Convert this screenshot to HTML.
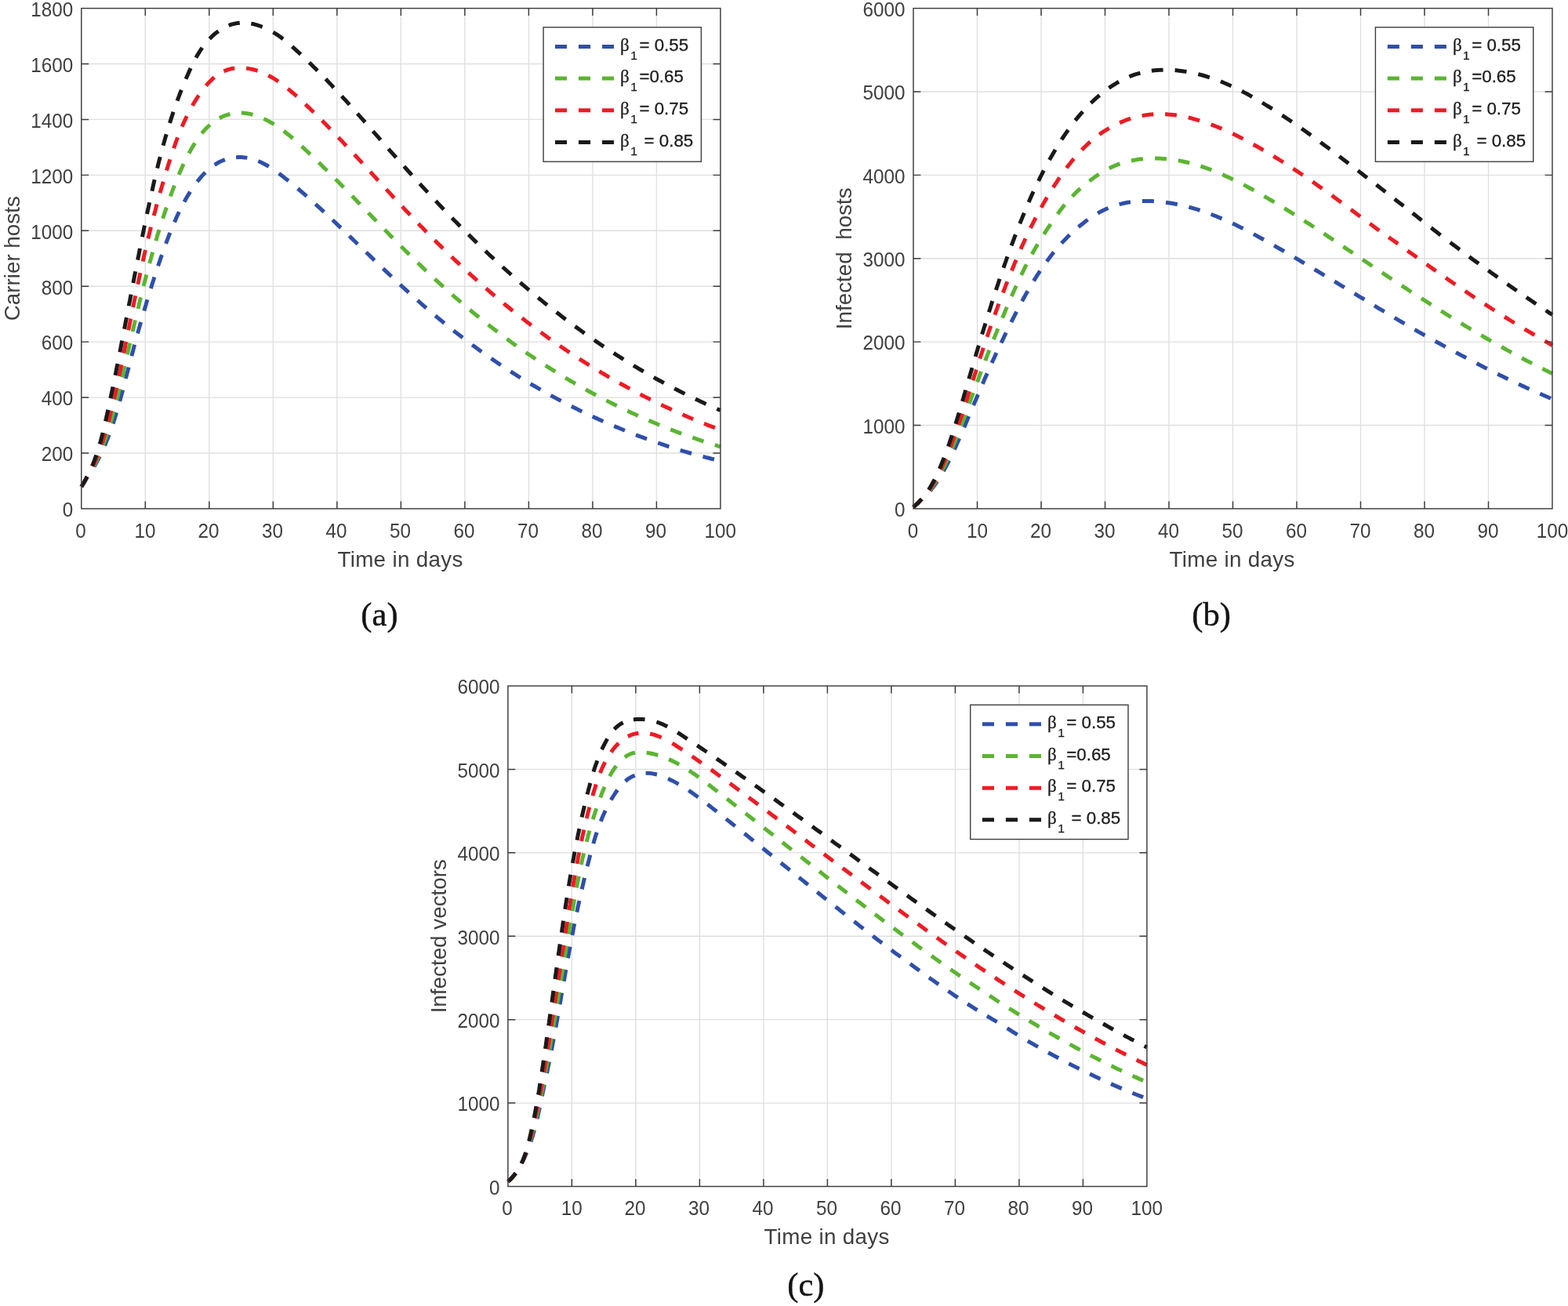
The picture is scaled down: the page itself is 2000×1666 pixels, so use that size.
<!DOCTYPE html>
<html lang="en">
<head>
<meta charset="utf-8">
<title>Effect of β1 on carrier hosts, infected hosts and infected vectors</title>
<style>
html,body{margin:0;padding:0;background:#fff;}
body{width:2000px;height:1666px;overflow:hidden;}
svg{display:block;}
text{font-family:"Liberation Sans",sans-serif;fill:#404040;}
.tick text{font-size:25.3px;}
.lab{font-size:27.8px;}
.leg{font-size:22.3px;fill:#1c1c1c;stroke:#1c1c1c;stroke-width:0.3px;}
.leg .sub{font-size:15.5px;}
.leg .beta{font-family:"Liberation Serif",serif;font-size:23px;}
.cap{font-family:"Liberation Serif",serif;font-size:42.6px;fill:#141414;stroke:#141414;stroke-width:0.45px;}
.grid{fill:none;stroke:#dfdfdf;stroke-width:1.35;}
.axis{fill:none;stroke:#3c3c3c;stroke-width:1.45;}
.legbox{fill:#fff;stroke:#3c3c3c;stroke-width:1.4;}
.curves path{fill:none;stroke-width:5;stroke-linecap:butt;stroke-linejoin:round;}
.legend path{fill:none;}
</style>
</head>
<body>
<svg width="2000" height="1666" viewBox="0 0 2000 1666">
<defs>
<clipPath id="clip-a"><rect x="99.8" y="6.6" width="823.15" height="646.3"/></clipPath>
<clipPath id="clip-b"><rect x="1161" y="6.6" width="823" height="646.3"/></clipPath>
<clipPath id="clip-c"><rect x="643.9" y="871" width="823" height="646.5"/></clipPath>
</defs>
<rect width="2000" height="1666" fill="#fff"/>
<g class="chart" id="chart-a">
<path class="grid" d="M185.31,10.6V648.9M266.83,10.6V648.9M348.35,10.6V648.9M429.86,10.6V648.9M511.38,10.6V648.9M592.89,10.6V648.9M674.41,10.6V648.9M755.92,10.6V648.9M837.43,10.6V648.9M103.8,577.98H918.95M103.8,507.06H918.95M103.8,436.13H918.95M103.8,365.21H918.95M103.8,294.29H918.95M103.8,223.37H918.95M103.8,152.44H918.95M103.8,81.52H918.95"/>
<g clip-path="url(#clip-a)" class="curves">
<path stroke="#2f4faa" d="M103.8,620.9L105.8,617.7 107.7,614.5 109.5,611.2 111.2,608.0M120.2,595.4L122.0,592.1 123.8,588.8 125.5,585.5 127.2,582.1M133.5,568.5L135.0,565.0 136.4,561.6 137.8,558.1 139.1,554.6M144.1,540.5L145.3,537.0 146.4,533.4 147.5,529.9 148.6,526.3M152.7,511.9L153.7,508.3 154.7,504.7 155.7,501.1 156.6,497.5M160.4,483.0L161.3,479.4 162.2,475.8 163.2,472.2 164.1,468.5M167.9,454.1L168.8,450.5 169.8,446.9 170.7,443.3 171.7,439.7M175.6,425.3L176.6,421.7 177.6,418.1 178.6,414.5 179.6,410.9M183.8,396.5L184.8,393.0 185.9,389.4 186.9,385.8 188.0,382.2M192.4,367.9L193.5,364.3 194.6,360.7 195.8,357.2 196.9,353.6M201.6,339.3L202.8,335.8 204.0,332.2 205.2,328.6 206.5,325.1M211.6,310.9L212.9,307.4 214.2,303.9 215.5,300.4 216.9,296.9M222.5,283.4L224.0,280.1 225.4,276.8 226.9,273.5 228.4,270.3M235.0,257.5L236.8,254.3 238.6,251.1 240.6,247.9 242.6,244.6M251.6,231.7L254.1,228.6 256.6,225.6 259.2,222.7 261.9,219.9M273.7,210.3L276.9,208.3 280.1,206.5 283.5,205.0 286.9,203.7M301.1,200.7L304.7,200.6 308.3,200.6 311.9,200.9 315.4,201.4M329.4,205.5L332.9,207.0 336.2,208.7 339.6,210.5 342.9,212.4M355.7,221.3L358.8,223.6 361.9,226.0 364.9,228.4 368.0,230.8M379.8,240.5L382.7,243.0 385.5,245.4 388.4,247.9 391.2,250.4M402.4,260.3L405.1,262.8 407.9,265.3 410.6,267.8 413.3,270.4M424.1,280.5L426.8,283.0 429.5,285.6 432.1,288.2 434.8,290.7M445.5,301.0L448.2,303.6 450.9,306.2 453.6,308.8 456.2,311.4M467.0,321.7L469.7,324.3 472.4,326.9 475.0,329.5 477.7,332.1M488.6,342.5L491.3,345.1 494.0,347.6 496.7,350.2 499.4,352.8M510.4,363.0L513.1,365.6 515.9,368.1 518.6,370.6 521.4,373.1M532.6,383.2L535.4,385.6 538.2,388.1 541.0,390.6 543.8,393.0M555.2,402.7L558.1,405.1 561.0,407.5 563.9,409.9 566.8,412.3M578.4,421.7L581.4,424.0 584.3,426.3 587.3,428.6 590.2,430.8M602.2,439.9L605.2,442.1 608.2,444.3 611.2,446.5 614.3,448.7M626.5,457.3L629.5,459.4 632.6,461.5 635.7,463.6 638.8,465.7M651.3,473.9L654.4,475.9 657.6,477.9 660.7,479.8 663.9,481.8M676.6,489.6L679.8,491.5 683.1,493.3 686.3,495.2 689.5,497.1M702.5,504.4L705.8,506.2 709.1,507.9 712.4,509.7 715.7,511.4M728.9,518.3L732.3,520.0 735.6,521.6 738.9,523.3 742.3,524.9M755.8,531.3L759.2,532.9 762.6,534.4 766.0,536.0 769.4,537.5M783.2,543.5L786.6,544.9 790.1,546.3 793.6,547.8 797.0,549.2M811.0,554.7L814.5,556.1 818.0,557.4 821.5,558.7 825.0,560.0M839.2,565.0L842.8,566.2 846.3,567.4 849.9,568.6 853.4,569.8M867.7,574.3L871.3,575.4 874.9,576.4 878.5,577.5 882.1,578.5M896.6,582.4L900.2,583.4 903.8,584.3 907.4,585.2 911.0,586.0"/>
<path stroke="#5ab531" d="M103.8,620.9L105.8,617.7 107.7,614.5 109.5,611.2 111.2,608.0M119.4,595.2L121.1,591.8 122.7,588.5 124.3,585.0 125.8,581.6M131.5,567.7L132.8,564.2 134.1,560.7 135.3,557.1 136.5,553.6M141.0,539.3L142.1,535.7 143.1,532.1 144.1,528.5 145.1,524.9M148.9,510.5L149.8,506.8 150.7,503.2 151.6,499.6 152.4,495.9M155.8,481.3L156.7,477.7 157.5,474.1 158.3,470.4 159.2,466.8M162.5,452.2L163.3,448.5 164.1,444.9 165.0,441.2 165.8,437.6M169.1,423.0L170.0,419.4 170.8,415.7 171.7,412.1 172.5,408.4M176.0,393.9L176.9,390.3 177.7,386.6 178.6,383.0 179.5,379.4M183.1,364.9L184.0,361.3 185.0,357.6 185.9,354.0 186.8,350.4M190.7,336.0L191.7,332.4 192.7,328.8 193.7,325.2 194.7,321.6M198.8,307.2L199.9,303.7 200.9,300.1 202.0,296.5 203.1,292.9M207.6,278.7L208.8,275.2 210.0,271.6 211.2,268.1 212.4,264.6M217.3,250.5L218.6,247.0 219.9,243.5 221.2,240.0 222.5,236.6M228.1,222.7L229.6,219.3 231.1,215.9 232.6,212.5 234.2,209.1M241.0,195.7L242.8,192.3 244.7,189.0 246.6,185.8 248.6,182.5M257.4,170.1L259.9,167.2 262.4,164.4 265.1,161.8 267.8,159.2M279.9,150.7L283.2,149.0 286.5,147.6 290.0,146.4 293.5,145.5M307.9,144.1L311.5,144.3 315.2,144.7 318.8,145.4 322.4,146.3M336.4,151.5L339.8,153.1 343.1,154.9 346.4,156.7 349.6,158.7M361.9,167.1L364.9,169.4 367.8,171.7 370.7,174.1 373.6,176.5M384.8,186.6L387.6,189.1 390.3,191.7 393.0,194.3 395.8,196.9M406.6,207.3L409.3,209.9 411.9,212.6 414.6,215.2 417.3,217.8M427.9,228.5L430.5,231.1 433.2,233.8 435.8,236.5 438.4,239.1M448.9,249.9L451.5,252.5 454.1,255.2 456.7,257.9 459.3,260.6M469.7,271.4L472.3,274.1 474.9,276.8 477.5,279.4 480.1,282.1M490.6,292.9L493.2,295.5 495.8,298.2 498.4,300.9 501.0,303.6M511.6,314.2L514.2,316.8 516.8,319.5 519.5,322.1 522.1,324.8M532.8,335.2L535.5,337.8 538.2,340.4 540.9,343.0 543.6,345.6M554.5,355.8L557.3,358.3 560.0,360.9 562.8,363.4 565.6,365.9M576.7,375.9L579.5,378.3 582.4,380.8 585.2,383.2 588.0,385.7M599.4,395.3L602.3,397.7 605.2,400.1 608.1,402.5 611.0,404.8M622.7,414.1L625.6,416.5 628.6,418.7 631.5,421.0 634.5,423.3M646.5,432.3L649.5,434.5 652.5,436.7 655.5,438.9 658.6,441.0M670.8,449.6L673.9,451.7 677.0,453.8 680.1,455.9 683.2,458.0M695.7,466.2L698.8,468.2 702.0,470.2 705.2,472.2 708.3,474.2M721.1,481.9L724.3,483.9 727.5,485.7 730.8,487.6 734.0,489.5M747.0,496.9L750.3,498.7 753.6,500.5 756.9,502.2 760.2,504.0M773.4,510.9L776.7,512.6 780.1,514.3 783.4,516.0 786.8,517.6M800.3,524.1L803.6,525.7 807.0,527.3 810.4,528.8 813.8,530.4M827.5,536.4L831.0,537.9 834.4,539.3 837.9,540.8 841.3,542.2M855.2,547.8L858.7,549.1 862.2,550.5 865.7,551.8 869.2,553.1M883.3,558.2L886.9,559.4 890.4,560.7 893.9,561.9 897.5,563.1M911.8,567.7L913.6,568.2 915.4,568.8 917.2,569.3 919.0,569.9"/>
<path stroke="#ed1c24" d="M103.8,620.9L105.8,617.7 107.7,614.5 109.5,611.2 111.2,608.0M118.7,594.9L120.2,591.5 121.7,588.1 123.1,584.6 124.5,581.2M129.5,567.1L130.7,563.5 131.8,560.0 132.9,556.4 134.0,552.8M138.1,538.4L139.1,534.8 140.0,531.1 140.9,527.5 141.8,523.9M145.3,509.2L146.2,505.6 147.0,501.9 147.8,498.3 148.6,494.6M151.8,479.9L152.5,476.2 153.3,472.6 154.1,468.9 154.8,465.2M157.8,450.5L158.6,446.9 159.3,443.2 160.0,439.5 160.8,435.9M163.7,421.2L164.5,417.6 165.2,413.9 166.0,410.2 166.7,406.6M169.7,391.9L170.4,388.3 171.2,384.6 172.0,381.0 172.7,377.3M175.8,362.7L176.6,359.0 177.3,355.4 178.1,351.7 178.9,348.1M182.2,333.5L183.0,329.8 183.8,326.2 184.6,322.5 185.5,318.9M188.9,304.3L189.8,300.6 190.7,297.0 191.6,293.3 192.5,289.7M196.2,275.1L197.2,271.4 198.2,267.8 199.1,264.2 200.1,260.5M204.1,246.1L205.1,242.4 206.2,238.8 207.2,235.2 208.3,231.7M212.5,217.4L213.6,213.8 214.7,210.3 215.8,206.7 216.9,203.2M221.6,189.2L222.8,185.7 224.0,182.2 225.3,178.8 226.5,175.3M232.1,161.6L233.6,158.2 235.1,154.8 236.7,151.5 238.3,148.1M245.4,134.8L247.3,131.4 249.3,128.2 251.4,124.9 253.5,121.6M262.8,109.3L265.3,106.4 267.9,103.7 270.6,101.1 273.4,98.7M285.5,90.9L288.8,89.5 292.2,88.4 295.7,87.5 299.3,87.0M314.1,87.0L317.8,87.6 321.5,88.3 325.1,89.2 328.6,90.3M342.3,96.2L345.6,98.0 348.8,99.9 352.0,101.9 355.1,104.0M367.2,113.1L370.1,115.6 372.9,118.0 375.8,120.4 378.6,122.9M389.5,133.0L392.2,135.6 394.9,138.1 397.5,140.7 400.2,143.3M410.8,153.8L413.4,156.4 416.0,159.1 418.6,161.8 421.2,164.4M431.5,175.2L434.1,177.9 436.7,180.6 439.2,183.4 441.8,186.1M452.0,197.1L454.5,199.8 457.1,202.6 459.6,205.3 462.2,208.1M472.3,219.2L474.8,222.0 477.4,224.7 479.9,227.5 482.4,230.3M492.6,241.4L495.1,244.1 497.7,246.9 500.2,249.7 502.8,252.4M513.0,263.4L515.5,266.2 518.1,268.9 520.7,271.6 523.2,274.3M533.6,285.2L536.2,287.9 538.8,290.5 541.4,293.2 544.0,295.9M554.5,306.5L557.2,309.2 559.8,311.8 562.5,314.4 565.1,317.0M575.9,327.4L578.5,330.0 581.2,332.6 584.0,335.2 586.7,337.7M597.6,347.9L600.3,350.4 603.1,352.9 605.9,355.4 608.6,357.9M619.8,367.8L622.6,370.2 625.4,372.7 628.3,375.1 631.1,377.5M642.5,387.1L645.4,389.5 648.3,391.8 651.2,394.2 654.1,396.5M665.8,405.8L668.8,408.1 671.7,410.4 674.7,412.6 677.7,414.9M689.7,423.8L692.7,426.0 695.7,428.2 698.7,430.4 701.8,432.6M714.0,441.2L717.1,443.3 720.2,445.4 723.3,447.5 726.4,449.6M739.0,457.8L742.1,459.8 745.3,461.8 748.4,463.8 751.6,465.8M764.4,473.6L767.6,475.6 770.8,477.5 774.0,479.4 777.2,481.3M790.2,488.7L793.5,490.5 796.8,492.3 800.1,494.1 803.3,495.9M816.6,502.9L819.9,504.7 823.2,506.4 826.6,508.1 829.9,509.7M843.3,516.3L846.7,517.9 850.1,519.5 853.5,521.1 856.9,522.7M870.5,528.8L873.9,530.3 877.3,531.8 880.8,533.2 884.2,534.7M898.0,540.3L901.5,541.7 905.0,543.1 908.5,544.4 912.0,545.8"/>
<path stroke="#1a1a1a" d="M103.8,620.9L105.8,617.7 107.7,614.5 109.5,611.2 111.2,608.0M117.5,594.5L118.9,591.1 120.3,587.6 121.5,584.1 122.8,580.6M127.2,566.4L128.3,562.9 129.2,559.3 130.2,555.6 131.1,552.0M134.5,537.4L135.4,533.8 136.2,530.1 137.0,526.5 137.8,522.8M140.9,508.1L141.7,504.4 142.5,500.8 143.3,497.1 144.0,493.4M147.0,478.7L147.8,475.0 148.5,471.3 149.2,467.6 150.0,464.0M152.9,449.2L153.6,445.5 154.3,441.9 155.0,438.2 155.7,434.5M158.6,419.8L159.3,416.1 160.0,412.4 160.7,408.7 161.4,405.1M164.2,390.3L164.9,386.7 165.7,383.0 166.4,379.3 167.1,375.6M169.9,360.9L170.6,357.3 171.3,353.6 172.0,349.9 172.8,346.2M175.6,331.6L176.4,327.9 177.1,324.2 177.8,320.6 178.5,316.9M181.5,302.2L182.2,298.6 183.0,294.9 183.7,291.2 184.5,287.6M187.5,273.0L188.3,269.3 189.1,265.6 189.9,262.0 190.7,258.3M193.9,243.7L194.7,240.1 195.5,236.4 196.3,232.8 197.2,229.2M200.6,214.6L201.5,211.0 202.4,207.4 203.3,203.8 204.3,200.1M208.1,185.7L209.1,182.1 210.1,178.5 211.1,174.9 212.2,171.3M216.5,157.0L217.6,153.5 218.8,149.9 219.9,146.4 221.1,142.8M226.1,128.7L227.4,125.2 228.7,121.7 230.0,118.2 231.4,114.7M237.1,100.8L238.6,97.3 240.1,93.9 241.6,90.4 243.2,87.0M250.0,73.6L251.8,70.3 253.8,67.1 255.8,64.0 257.9,60.9M267.3,49.5L269.9,46.9 272.7,44.3 275.6,41.9 278.6,39.7M291.7,32.5L295.2,31.2 298.7,30.3 302.3,29.6 305.8,29.2M320.3,30.1L324.0,30.8 327.6,31.8 331.2,33.0 334.7,34.3M348.4,41.1L351.7,43.1 354.9,45.2 358.0,47.4 361.1,49.7M372.6,59.3L375.4,61.8 378.1,64.3 380.9,66.8 383.6,69.3M394.4,79.7L397.1,82.3 399.7,84.9 402.4,87.5 405.0,90.2M415.4,100.8L418.0,103.5 420.6,106.2 423.1,108.9 425.7,111.7M435.8,122.6L438.3,125.4 440.9,128.1 443.4,130.9 445.9,133.7M455.8,144.8L458.3,147.6 460.8,150.4 463.3,153.2 465.7,156.0M475.6,167.3L478.1,170.1 480.6,172.9 483.0,175.7 485.5,178.5M495.4,189.8L497.8,192.6 500.3,195.4 502.8,198.2 505.3,201.0M515.3,212.2L517.8,215.0 520.3,217.7 522.8,220.5 525.3,223.3M535.4,234.4L537.9,237.1 540.5,239.9 543.0,242.6 545.6,245.4M555.8,256.3L558.4,259.1 560.9,261.8 563.5,264.5 566.1,267.2M576.5,278.0L579.1,280.7 581.8,283.3 584.4,286.0 587.0,288.7M597.6,299.3L600.3,301.9 602.9,304.5 605.6,307.1 608.3,309.8M619.1,320.1L621.8,322.7 624.5,325.3 627.3,327.8 630.0,330.4M641.0,340.5L643.8,343.0 646.6,345.5 649.4,348.0 652.2,350.5M663.5,360.4L666.3,362.8 669.1,365.2 672.0,367.7 674.8,370.1M686.3,379.6L689.2,382.0 692.1,384.4 695.0,386.7 698.0,389.1M709.7,398.3L712.7,400.6 715.6,402.9 718.6,405.2 721.6,407.4M733.5,416.4L736.6,418.6 739.6,420.8 742.6,423.0 745.6,425.1M757.9,433.7L760.9,435.9 764.0,438.0 767.1,440.1 770.2,442.1M782.7,450.4L785.8,452.4 789.0,454.4 792.1,456.4 795.3,458.4M808.0,466.3L811.2,468.2 814.4,470.1 817.6,472.0 820.9,473.9M833.8,481.4L837.1,483.2 840.4,485.0 843.7,486.8 846.9,488.6M860.2,495.6L863.5,497.3 866.8,499.0 870.2,500.7 873.5,502.4M887.0,509.0L890.4,510.6 893.8,512.2 897.2,513.8 900.6,515.4M914.4,521.5L915.5,522.0 916.7,522.5 917.8,523.0 919.0,523.4"/>
</g>
<path class="axis" d="M185.31,648.9v-9.4M185.31,10.6v9.4M266.83,648.9v-9.4M266.83,10.6v9.4M348.35,648.9v-9.4M348.35,10.6v9.4M429.86,648.9v-9.4M429.86,10.6v9.4M511.38,648.9v-9.4M511.38,10.6v9.4M592.89,648.9v-9.4M592.89,10.6v9.4M674.41,648.9v-9.4M674.41,10.6v9.4M755.92,648.9v-9.4M755.92,10.6v9.4M837.43,648.9v-9.4M837.43,10.6v9.4M103.8,577.98h9.4M918.95,577.98h-9.4M103.8,507.06h9.4M918.95,507.06h-9.4M103.8,436.13h9.4M918.95,436.13h-9.4M103.8,365.21h9.4M918.95,365.21h-9.4M103.8,294.29h9.4M918.95,294.29h-9.4M103.8,223.37h9.4M918.95,223.37h-9.4M103.8,152.44h9.4M918.95,152.44h-9.4M103.8,81.52h9.4M918.95,81.52h-9.4"/>
<rect class="axis" x="103.8" y="10.6" width="815.15" height="638.3"/>
<g class="tick" text-anchor="middle">
<text x="102.9" y="685.75" textLength="13.5" lengthAdjust="spacingAndGlyphs">0</text>
<text x="185.01" y="685.75" textLength="27.01" lengthAdjust="spacingAndGlyphs">10</text>
<text x="265.93" y="685.75" textLength="27.01" lengthAdjust="spacingAndGlyphs">20</text>
<text x="347.45" y="685.75" textLength="27.01" lengthAdjust="spacingAndGlyphs">30</text>
<text x="428.96" y="685.75" textLength="27.01" lengthAdjust="spacingAndGlyphs">40</text>
<text x="510.48" y="685.75" textLength="27.01" lengthAdjust="spacingAndGlyphs">50</text>
<text x="591.99" y="685.75" textLength="27.01" lengthAdjust="spacingAndGlyphs">60</text>
<text x="673.51" y="685.75" textLength="27.01" lengthAdjust="spacingAndGlyphs">70</text>
<text x="755.02" y="685.75" textLength="27.01" lengthAdjust="spacingAndGlyphs">80</text>
<text x="836.53" y="685.75" textLength="27.01" lengthAdjust="spacingAndGlyphs">90</text>
<text x="918.65" y="685.75" textLength="40.51" lengthAdjust="spacingAndGlyphs">100</text>
</g>
<g class="tick" text-anchor="end">
<text x="93.3" y="659.2" textLength="13.5" lengthAdjust="spacingAndGlyphs">0</text>
<text x="93.3" y="588.28" textLength="40.51" lengthAdjust="spacingAndGlyphs">200</text>
<text x="93.3" y="517.36" textLength="40.51" lengthAdjust="spacingAndGlyphs">400</text>
<text x="93.3" y="446.43" textLength="40.51" lengthAdjust="spacingAndGlyphs">600</text>
<text x="93.3" y="375.51" textLength="40.51" lengthAdjust="spacingAndGlyphs">800</text>
<text x="93.3" y="304.59" textLength="54.02" lengthAdjust="spacingAndGlyphs">1000</text>
<text x="93.3" y="233.67" textLength="54.02" lengthAdjust="spacingAndGlyphs">1200</text>
<text x="93.3" y="162.74" textLength="54.02" lengthAdjust="spacingAndGlyphs">1400</text>
<text x="93.3" y="91.82" textLength="54.02" lengthAdjust="spacingAndGlyphs">1600</text>
<text x="93.3" y="20.9" textLength="54.02" lengthAdjust="spacingAndGlyphs">1800</text>
</g>
<text class="lab" text-anchor="middle" x="510.38" y="722.5" textLength="159.9">Time in days</text>
<text class="lab" text-anchor="middle" transform="translate(24.6,329.75) rotate(-90)" xml:space="preserve">Carrier hosts</text>
<g class="legend">
<rect class="legbox" x="693.1" y="34.8" width="201.3" height="171.4"/>
<path stroke="#2f4faa" stroke-width="5" stroke-dasharray="15.1 14.9" d="M708,59.4h75.4"/>
<text class="leg" x="791.1" y="64.5" xml:space="preserve"><tspan class="beta">β</tspan><tspan class="sub" dx="1.5" dy="11">1</tspan><tspan dx="2.5" dy="-11">= 0.55</tspan></text>
<path stroke="#5ab531" stroke-width="5" stroke-dasharray="15.1 14.9" d="M708,100.08h75.4"/>
<text class="leg" x="791.1" y="105.18" xml:space="preserve"><tspan class="beta">β</tspan><tspan class="sub" dx="1.5" dy="11">1</tspan><tspan dx="2.5" dy="-11">=0.65</tspan></text>
<path stroke="#ed1c24" stroke-width="5" stroke-dasharray="15.1 14.9" d="M708,140.76h75.4"/>
<text class="leg" x="791.1" y="145.86" xml:space="preserve"><tspan class="beta">β</tspan><tspan class="sub" dx="1.5" dy="11">1</tspan><tspan dx="2.5" dy="-11">= 0.75</tspan></text>
<path stroke="#1a1a1a" stroke-width="5" stroke-dasharray="15.1 14.9" d="M708,181.44h75.4"/>
<text class="leg" x="791.1" y="186.54" xml:space="preserve"><tspan class="beta">β</tspan><tspan class="sub" dx="1.5" dy="11">1</tspan><tspan dx="2.5" dy="-11"> = 0.85</tspan></text>
</g>
</g>
<g class="chart" id="chart-b">
<path class="grid" d="M1246.5,10.6V648.9M1328,10.6V648.9M1409.5,10.6V648.9M1491,10.6V648.9M1572.5,10.6V648.9M1654,10.6V648.9M1735.5,10.6V648.9M1817,10.6V648.9M1898.5,10.6V648.9M1165,542.52H1980M1165,436.13H1980M1165,329.75H1980M1165,223.37H1980M1165,116.98H1980"/>
<g clip-path="url(#clip-b)" class="curves">
<path stroke="#2f4faa" d="M1165.0,646.8L1167.8,644.4 1170.6,641.9 1173.1,639.3 1175.6,636.6M1186.5,626.2L1188.8,623.2 1191.1,620.3 1193.3,617.2 1195.5,614.0M1203.4,601.0L1205.3,597.6 1207.1,594.2 1208.9,590.8 1210.6,587.3M1217.3,573.4L1218.9,569.9 1220.5,566.4 1222.1,562.8 1223.7,559.3M1229.8,545.2L1231.3,541.6 1232.8,538.1 1234.2,534.6 1235.7,531.1M1241.6,517.1L1243.1,513.6 1244.6,510.2 1246.0,506.7 1247.5,503.3M1253.3,489.7L1254.8,486.3 1256.2,482.9 1257.7,479.6 1259.2,476.2M1265.1,463.1L1266.5,459.8 1268.0,456.6 1269.5,453.4 1271.0,450.1M1277.0,437.3L1278.6,434.1 1280.2,430.8 1281.7,427.6 1283.3,424.3M1289.9,411.0L1291.5,407.6 1293.2,404.3 1294.9,401.0 1296.6,397.6M1303.6,384.3L1305.4,381.0 1307.2,377.7 1309.0,374.5 1310.9,371.2M1318.5,358.3L1320.5,355.1 1322.5,351.9 1324.5,348.8 1326.6,345.7M1335.1,333.4L1337.4,330.4 1339.6,327.5 1341.9,324.5 1344.2,321.6M1354.0,310.3L1356.5,307.6 1359.1,304.9 1361.7,302.3 1364.4,299.6M1375.5,289.6L1378.4,287.2 1381.4,284.9 1384.4,282.5 1387.5,280.3M1400.2,272.1L1403.5,270.2 1406.8,268.5 1410.2,266.9 1413.6,265.5M1427.6,260.7L1431.1,259.8 1434.7,259.0 1438.4,258.3 1442.0,257.8M1456.9,256.5L1460.6,256.4 1464.4,256.4 1468.2,256.5 1471.9,256.7M1487.0,258.2L1490.7,258.7 1494.4,259.3 1498.1,260.0 1501.8,260.7M1516.4,264.1L1520.0,265.1 1523.5,266.2 1527.1,267.2 1530.6,268.4M1544.7,273.3L1548.2,274.7 1551.6,276.0 1555.1,277.5 1558.5,278.9M1572.1,285.0L1575.5,286.6 1578.9,288.3 1582.2,289.9 1585.6,291.6M1598.9,298.6L1602.2,300.4 1605.5,302.2 1608.7,304.0 1612.0,305.8M1625.1,313.2L1628.3,315.1 1631.6,317.0 1634.8,318.8 1638.1,320.7M1651.0,328.3L1654.2,330.2 1657.4,332.1 1660.6,334.0 1663.8,335.9M1676.6,343.6L1679.8,345.5 1683.0,347.4 1686.2,349.3 1689.4,351.3M1702.1,359.0L1705.3,360.9 1708.5,362.8 1711.7,364.8 1714.9,366.7M1727.6,374.4L1730.8,376.4 1733.9,378.3 1737.1,380.2 1740.3,382.2M1753.0,389.9L1756.2,391.8 1759.4,393.8 1762.6,395.7 1765.8,397.6M1778.6,405.3L1781.8,407.2 1785.0,409.1 1788.3,411.0 1791.5,412.9M1804.4,420.4L1807.7,422.3 1810.9,424.1 1814.2,426.0 1817.5,427.8M1830.6,435.2L1833.9,437.0 1837.2,438.8 1840.5,440.6 1843.8,442.4M1857.0,449.6L1860.3,451.3 1863.6,453.1 1866.9,454.8 1870.2,456.6M1883.5,463.5L1886.8,465.2 1890.2,467.0 1893.5,468.7 1896.8,470.3M1910.2,477.0L1913.5,478.7 1916.8,480.3 1920.2,482.0 1923.6,483.6M1937.0,490.0L1940.4,491.6 1943.8,493.1 1947.2,494.7 1950.6,496.2M1964.3,502.3L1967.7,503.8 1971.2,505.3 1974.6,506.7 1978.1,508.2"/>
<path stroke="#5ab531" d="M1165.0,646.8L1167.8,644.4 1170.6,641.9 1173.1,639.3 1175.6,636.6M1185.8,625.7L1188.0,622.7 1190.1,619.6 1192.2,616.4 1194.2,613.2M1201.5,599.9L1203.3,596.5 1205.0,593.1 1206.6,589.6 1208.2,586.1M1214.4,571.9L1215.9,568.3 1217.4,564.7 1218.8,561.1 1220.3,557.6M1225.8,543.2L1227.1,539.6 1228.5,536.1 1229.8,532.5 1231.1,529.0M1236.3,515.0L1237.5,511.5 1238.8,508.1 1240.1,504.6 1241.4,501.1M1246.4,487.4L1247.7,484.0 1248.9,480.6 1250.2,477.2 1251.5,473.8M1256.6,460.2L1257.9,456.8 1259.3,453.4 1260.6,450.0 1261.9,446.6M1267.3,433.0L1268.7,429.5 1270.1,426.1 1271.5,422.7 1272.9,419.3M1278.5,405.6L1280.0,402.2 1281.4,398.7 1282.8,395.3 1284.3,391.8M1290.2,378.1L1291.7,374.7 1293.2,371.2 1294.8,367.8 1296.3,364.4M1302.6,350.8L1304.3,347.4 1305.9,344.1 1307.6,340.7 1309.3,337.4M1316.3,324.3L1318.1,321.0 1319.9,317.8 1321.8,314.6 1323.7,311.5M1331.6,298.8L1333.6,295.6 1335.7,292.4 1337.9,289.1 1340.1,285.8M1349.0,272.9L1351.3,269.8 1353.6,266.8 1355.9,263.9 1358.1,261.0M1367.6,250.4L1370.1,247.9 1372.7,245.4 1375.3,242.9 1378.0,240.4M1389.5,230.9L1392.5,228.7 1395.5,226.5 1398.6,224.3 1401.7,222.2M1414.7,214.7L1418.1,213.1 1421.5,211.6 1424.9,210.2 1428.5,208.9M1443.0,205.0L1446.7,204.2 1450.4,203.6 1454.2,203.1 1457.9,202.7M1473.1,202.0L1476.8,202.1 1480.6,202.2 1484.3,202.4 1488.0,202.7M1502.8,204.7L1506.4,205.4 1510.0,206.2 1513.6,207.0 1517.2,207.9M1531.4,212.0L1535.0,213.1 1538.5,214.4 1541.9,215.6 1545.4,216.9M1559.2,222.6L1562.6,224.2 1566.0,225.7 1569.4,227.3 1572.8,228.9M1586.2,235.7L1589.5,237.4 1592.8,239.2 1596.1,241.0 1599.4,242.8M1612.4,250.3L1615.7,252.2 1618.9,254.1 1622.2,256.0 1625.4,257.9M1638.2,265.7L1641.4,267.7 1644.5,269.6 1647.7,271.6 1650.9,273.6M1663.5,281.6L1666.6,283.7 1669.7,285.7 1672.9,287.7 1676.0,289.8M1688.5,297.9L1691.6,300.0 1694.7,302.1 1697.8,304.1 1700.9,306.2M1713.3,314.5L1716.4,316.6 1719.5,318.7 1722.5,320.7 1725.6,322.8M1738.0,331.1L1741.1,333.2 1744.2,335.3 1747.3,337.4 1750.4,339.5M1762.9,347.8L1766.0,349.9 1769.1,351.9 1772.2,354.0 1775.3,356.1M1787.8,364.3L1791.0,366.4 1794.1,368.4 1797.2,370.5 1800.4,372.5M1812.9,380.6L1816.1,382.7 1819.2,384.7 1822.4,386.7 1825.5,388.7M1838.2,396.7L1841.4,398.7 1844.5,400.7 1847.7,402.6 1850.9,404.6M1863.6,412.4L1866.8,414.3 1870.0,416.3 1873.2,418.2 1876.4,420.1M1889.2,427.7L1892.5,429.6 1895.7,431.5 1898.9,433.3 1902.1,435.2M1915.1,442.5L1918.3,444.3 1921.5,446.1 1924.8,447.9 1928.0,449.7M1941.1,456.7L1944.4,458.5 1947.6,460.2 1950.9,461.9 1954.2,463.6M1967.4,470.3L1970.5,471.9 1973.7,473.5 1976.8,475.0 1980.0,476.5"/>
<path stroke="#ed1c24" d="M1165.0,646.8L1167.8,644.4 1170.6,641.9 1173.1,639.3 1175.6,636.6M1185.3,625.3L1187.4,622.2 1189.4,619.0 1191.3,615.8 1193.2,612.5M1200.1,598.9L1201.7,595.4 1203.3,591.9 1204.8,588.4 1206.3,584.9M1212.1,570.7L1213.5,567.1 1214.8,563.5 1216.2,559.9 1217.5,556.4M1222.6,542.0L1223.8,538.4 1225.0,534.8 1226.2,531.2 1227.4,527.6M1232.0,513.4L1233.2,509.8 1234.3,506.3 1235.4,502.8 1236.5,499.2M1241.0,485.3L1242.1,481.8 1243.2,478.3 1244.3,474.9 1245.4,471.4M1249.8,457.6L1250.9,454.1 1252.0,450.7 1253.2,447.2 1254.3,443.7M1259.0,429.8L1260.2,426.3 1261.4,422.8 1262.6,419.3 1263.8,415.8M1268.8,401.7L1270.1,398.1 1271.4,394.6 1272.7,391.0 1274.0,387.5M1279.4,373.3L1280.7,369.8 1282.1,366.2 1283.4,362.7 1284.8,359.2M1290.4,345.3L1291.8,341.8 1293.2,338.4 1294.6,334.9 1296.1,331.5M1301.9,317.8L1303.4,314.4 1305.0,311.0 1306.5,307.7 1308.0,304.3M1314.4,290.9L1316.0,287.6 1317.7,284.3 1319.4,281.0 1321.1,277.7M1328.1,264.7L1329.9,261.4 1331.7,258.2 1333.6,255.0 1335.5,251.8M1343.3,239.1L1345.3,235.9 1347.4,232.8 1349.4,229.6 1351.6,226.5M1360.3,214.3L1362.6,211.3 1365.0,208.3 1367.3,205.3 1369.7,202.4M1379.8,191.3L1382.4,188.6 1385.1,186.0 1387.8,183.4 1390.6,180.9M1402.2,171.5L1405.3,169.4 1408.4,167.3 1411.6,165.3 1414.8,163.4M1428.1,156.6L1431.6,155.1 1435.1,153.7 1438.6,152.4 1442.2,151.2M1456.6,147.6L1460.3,147.0 1463.9,146.4 1467.6,146.0 1471.3,145.7M1486.1,145.6L1489.8,145.9 1493.5,146.2 1497.2,146.6 1500.9,147.1M1515.7,149.9L1519.3,150.8 1523.0,151.8 1526.6,152.8 1530.2,153.9M1544.6,158.7L1548.1,160.1 1551.6,161.5 1555.1,162.9 1558.5,164.3M1572.2,170.5L1575.5,172.1 1578.9,173.8 1582.2,175.4 1585.5,177.1M1598.6,184.2L1601.8,186.0 1605.1,187.8 1608.3,189.7 1611.5,191.5M1624.3,199.1L1627.4,201.1 1630.6,203.0 1633.7,205.0 1636.9,207.0M1649.4,215.1L1652.5,217.2 1655.6,219.2 1658.7,221.3 1661.8,223.4M1674.2,231.9L1677.3,234.0 1680.3,236.2 1683.4,238.4 1686.5,240.5M1698.7,249.3L1701.7,251.5 1704.8,253.8 1707.8,256.0 1710.9,258.2M1723.0,267.2L1726.0,269.5 1729.1,271.8 1732.1,274.0 1735.1,276.3M1747.2,285.3L1750.3,287.5 1753.3,289.7 1756.3,291.9 1759.3,294.1M1771.2,302.6L1774.2,304.7 1777.2,306.8 1780.2,308.9 1783.2,311.1M1795.3,319.7L1798.3,321.9 1801.3,324.0 1804.3,326.2 1807.4,328.4M1819.5,337.1L1822.6,339.2 1825.6,341.4 1828.7,343.6 1831.7,345.7M1844.0,354.3L1847.0,356.5 1850.1,358.6 1853.2,360.7 1856.3,362.9M1868.7,371.3L1871.8,373.4 1874.9,375.5 1878.0,377.6 1881.1,379.7M1893.7,387.9L1896.8,389.9 1900.0,392.0 1903.1,394.0 1906.3,396.0M1919.0,404.1L1922.1,406.0 1925.3,408.0 1928.5,410.0 1931.7,412.0M1944.5,419.8L1947.7,421.7 1951.0,423.6 1954.2,425.5 1957.4,427.4M1970.4,435.0L1972.8,436.4 1975.2,437.7 1977.6,439.1 1980.0,440.5"/>
<path stroke="#1a1a1a" d="M1165.0,646.8L1167.8,644.4 1170.6,641.9 1173.1,639.3 1175.6,636.6M1184.5,624.7L1186.5,621.6 1188.4,618.3 1190.2,615.1 1192.0,611.7M1198.4,597.9L1199.9,594.4 1201.3,590.9 1202.8,587.3 1204.1,583.8M1209.4,569.5L1210.7,566.0 1211.9,562.4 1213.1,558.8 1214.3,555.2M1218.9,540.8L1220.0,537.2 1221.1,533.6 1222.2,530.0 1223.3,526.4M1227.5,512.0L1228.6,508.4 1229.6,504.8 1230.7,501.2 1231.7,497.6M1235.8,483.3L1236.9,479.8 1237.9,476.2 1239.0,472.6 1240.0,469.1M1244.2,454.9L1245.2,451.3 1246.3,447.8 1247.3,444.2 1248.4,440.7M1252.6,426.5L1253.7,423.0 1254.8,419.5 1255.9,415.9 1257.0,412.4M1261.3,398.3L1262.5,394.7 1263.6,391.2 1264.7,387.6 1265.8,384.1M1270.4,370.0L1271.6,366.4 1272.8,362.9 1273.9,359.3 1275.1,355.8M1280.0,341.6L1281.2,338.0 1282.5,334.5 1283.7,331.0 1285.0,327.4M1290.1,313.3L1291.4,309.8 1292.7,306.3 1294.0,302.8 1295.4,299.3M1300.8,285.3L1302.2,281.9 1303.6,278.4 1305.0,275.0 1306.4,271.6M1312.1,257.9L1313.6,254.5 1315.1,251.1 1316.6,247.7 1318.2,244.4M1324.6,230.9L1326.2,227.5 1327.9,224.2 1329.6,220.8 1331.3,217.5M1338.5,204.1L1340.4,200.8 1342.3,197.5 1344.2,194.2 1346.1,191.0M1354.0,178.1L1356.1,175.0 1358.2,171.9 1360.3,168.8 1362.5,165.7M1371.4,153.7L1373.8,150.8 1376.2,148.0 1378.6,145.1 1381.1,142.3M1391.4,131.5L1394.1,129.0 1396.8,126.4 1399.7,123.9 1402.5,121.5M1414.4,112.3L1417.5,110.1 1420.7,108.1 1423.9,106.1 1427.1,104.3M1440.4,97.8L1443.9,96.4 1447.3,95.2 1450.9,94.1 1454.4,93.1M1468.9,90.3L1472.5,89.8 1476.2,89.5 1479.9,89.3 1483.6,89.2M1498.6,89.6L1502.3,90.0 1506.1,90.4 1509.8,90.9 1513.5,91.5M1528.3,94.6L1532.0,95.5 1535.6,96.5 1539.2,97.6 1542.8,98.8M1556.9,103.8L1560.3,105.3 1563.8,106.7 1567.2,108.2 1570.6,109.7M1584.0,116.3L1587.3,118.1 1590.6,119.8 1593.9,121.6 1597.1,123.5M1610.0,131.0L1613.2,133.0 1616.4,135.0 1619.6,136.9 1622.8,138.9M1635.3,147.1L1638.5,149.1 1641.6,151.2 1644.7,153.3 1647.8,155.4M1660.1,163.9L1663.1,166.1 1666.2,168.3 1669.2,170.4 1672.2,172.6M1684.3,181.5L1687.3,183.7 1690.3,185.9 1693.3,188.1 1696.3,190.4M1708.3,199.4L1711.2,201.7 1714.2,203.9 1717.2,206.2 1720.1,208.5M1732.0,217.6L1734.9,219.9 1737.9,222.2 1740.8,224.4 1743.8,226.7M1755.5,235.8L1758.5,238.1 1761.4,240.4 1764.3,242.6 1767.2,244.9M1778.8,253.9L1781.7,256.2 1784.5,258.4 1787.4,260.6 1790.3,262.9M1801.7,271.9L1804.6,274.1 1807.5,276.4 1810.4,278.7 1813.4,281.1M1825.4,290.5L1828.4,292.9 1831.5,295.2 1834.5,297.6 1837.5,299.9M1849.7,309.2L1852.7,311.6 1855.8,313.8 1858.8,316.1 1861.9,318.4M1874.0,327.4L1877.0,329.7 1880.0,331.9 1883.1,334.1 1886.1,336.3M1898.2,345.1L1901.2,347.3 1904.3,349.4 1907.3,351.6 1910.3,353.8M1922.5,362.3L1925.5,364.5 1928.6,366.6 1931.6,368.7 1934.7,370.8M1946.9,379.3L1950.0,381.4 1953.1,383.5 1956.2,385.6 1959.3,387.7M1971.7,396.0L1973.8,397.4 1975.9,398.8 1977.9,400.1 1980.0,401.5"/>
</g>
<path class="axis" d="M1246.5,648.9v-9.4M1246.5,10.6v9.4M1328,648.9v-9.4M1328,10.6v9.4M1409.5,648.9v-9.4M1409.5,10.6v9.4M1491,648.9v-9.4M1491,10.6v9.4M1572.5,648.9v-9.4M1572.5,10.6v9.4M1654,648.9v-9.4M1654,10.6v9.4M1735.5,648.9v-9.4M1735.5,10.6v9.4M1817,648.9v-9.4M1817,10.6v9.4M1898.5,648.9v-9.4M1898.5,10.6v9.4M1165,542.52h9.4M1980,542.52h-9.4M1165,436.13h9.4M1980,436.13h-9.4M1165,329.75h9.4M1980,329.75h-9.4M1165,223.37h9.4M1980,223.37h-9.4M1165,116.98h9.4M1980,116.98h-9.4"/>
<rect class="axis" x="1165" y="10.6" width="815" height="638.3"/>
<g class="tick" text-anchor="middle">
<text x="1164.4" y="685.75" textLength="13.5" lengthAdjust="spacingAndGlyphs">0</text>
<text x="1246.5" y="685.75" textLength="27.01" lengthAdjust="spacingAndGlyphs">10</text>
<text x="1327.4" y="685.75" textLength="27.01" lengthAdjust="spacingAndGlyphs">20</text>
<text x="1408.9" y="685.75" textLength="27.01" lengthAdjust="spacingAndGlyphs">30</text>
<text x="1490.4" y="685.75" textLength="27.01" lengthAdjust="spacingAndGlyphs">40</text>
<text x="1571.9" y="685.75" textLength="27.01" lengthAdjust="spacingAndGlyphs">50</text>
<text x="1653.4" y="685.75" textLength="27.01" lengthAdjust="spacingAndGlyphs">60</text>
<text x="1734.9" y="685.75" textLength="27.01" lengthAdjust="spacingAndGlyphs">70</text>
<text x="1816.4" y="685.75" textLength="27.01" lengthAdjust="spacingAndGlyphs">80</text>
<text x="1897.9" y="685.75" textLength="27.01" lengthAdjust="spacingAndGlyphs">90</text>
<text x="1980" y="685.75" textLength="40.51" lengthAdjust="spacingAndGlyphs">100</text>
</g>
<g class="tick" text-anchor="end">
<text x="1154.5" y="659.2" textLength="13.5" lengthAdjust="spacingAndGlyphs">0</text>
<text x="1154.5" y="552.82" textLength="54.02" lengthAdjust="spacingAndGlyphs">1000</text>
<text x="1154.5" y="446.43" textLength="54.02" lengthAdjust="spacingAndGlyphs">2000</text>
<text x="1154.5" y="340.05" textLength="54.02" lengthAdjust="spacingAndGlyphs">3000</text>
<text x="1154.5" y="233.67" textLength="54.02" lengthAdjust="spacingAndGlyphs">4000</text>
<text x="1154.5" y="127.28" textLength="54.02" lengthAdjust="spacingAndGlyphs">5000</text>
<text x="1154.5" y="20.9" textLength="54.02" lengthAdjust="spacingAndGlyphs">6000</text>
</g>
<text class="lab" text-anchor="middle" x="1571.5" y="722.5" textLength="159.9">Time in days</text>
<text class="lab" text-anchor="middle" transform="translate(1085.6,329.75) rotate(-90)" xml:space="preserve">Infected  hosts</text>
<g class="legend">
<rect class="legbox" x="1754.4" y="34.8" width="201.3" height="171.4"/>
<path stroke="#2f4faa" stroke-width="5" stroke-dasharray="15.1 14.9" d="M1769.8,59.4h75.4"/>
<text class="leg" x="1852.9" y="64.5" xml:space="preserve"><tspan class="beta">β</tspan><tspan class="sub" dx="1.5" dy="11">1</tspan><tspan dx="2.5" dy="-11">= 0.55</tspan></text>
<path stroke="#5ab531" stroke-width="5" stroke-dasharray="15.1 14.9" d="M1769.8,100.08h75.4"/>
<text class="leg" x="1852.9" y="105.18" xml:space="preserve"><tspan class="beta">β</tspan><tspan class="sub" dx="1.5" dy="11">1</tspan><tspan dx="2.5" dy="-11">=0.65</tspan></text>
<path stroke="#ed1c24" stroke-width="5" stroke-dasharray="15.1 14.9" d="M1769.8,140.76h75.4"/>
<text class="leg" x="1852.9" y="145.86" xml:space="preserve"><tspan class="beta">β</tspan><tspan class="sub" dx="1.5" dy="11">1</tspan><tspan dx="2.5" dy="-11">= 0.75</tspan></text>
<path stroke="#1a1a1a" stroke-width="5" stroke-dasharray="15.1 14.9" d="M1769.8,181.44h75.4"/>
<text class="leg" x="1852.9" y="186.54" xml:space="preserve"><tspan class="beta">β</tspan><tspan class="sub" dx="1.5" dy="11">1</tspan><tspan dx="2.5" dy="-11"> = 0.85</tspan></text>
</g>
</g>
<g class="chart" id="chart-c">
<path class="grid" d="M729.4,875V1513.5M810.9,875V1513.5M892.4,875V1513.5M973.9,875V1513.5M1055.4,875V1513.5M1136.9,875V1513.5M1218.4,875V1513.5M1299.9,875V1513.5M1381.4,875V1513.5M647.9,1407.08H1462.9M647.9,1300.67H1462.9M647.9,1194.25H1462.9M647.9,1087.83H1462.9M647.9,981.42H1462.9"/>
<g clip-path="url(#clip-c)" class="curves">
<path stroke="#2f4faa" d="M647.9,1507.2L650.7,1504.8 653.2,1502.2 655.6,1499.4 657.8,1496.6M665.3,1484.0L667.1,1480.6 668.7,1477.2 670.3,1473.7 671.8,1470.2M677.1,1456.1L678.3,1452.5 679.4,1448.9 680.5,1445.3 681.5,1441.7M685.2,1427.2L686.0,1423.6 686.8,1420.0 687.6,1416.4 688.4,1412.7M691.4,1398.2L692.1,1394.5 692.9,1390.9 693.6,1387.3 694.4,1383.6M697.5,1369.1L698.3,1365.4 699.0,1361.8 699.8,1358.1 700.5,1354.5M703.4,1339.9L704.1,1336.2 704.8,1332.6 705.5,1328.9 706.2,1325.2M708.9,1310.6L709.6,1306.9 710.2,1303.2 710.9,1299.5 711.5,1295.9M714.1,1281.2L714.8,1277.5 715.4,1273.8 716.0,1270.1 716.7,1266.5M719.2,1251.7L719.9,1248.1 720.5,1244.4 721.2,1240.7 721.8,1237.0M724.4,1222.3L725.1,1218.6 725.8,1215.0 726.4,1211.3 727.1,1207.6M729.9,1192.9L730.6,1189.3 731.3,1185.6 732.0,1181.9 732.8,1178.3M735.8,1163.6L736.6,1159.9 737.3,1156.3 738.1,1152.6 738.9,1149.0M742.2,1134.4L743.0,1130.7 743.9,1127.1 744.7,1123.4 745.6,1119.8M749.1,1105.2L750.0,1101.6 751.0,1097.9 751.9,1094.3 752.8,1090.7M756.8,1076.2L757.8,1072.6 758.9,1069.0 760.0,1065.4 761.2,1061.8M766.3,1047.7L767.7,1044.2 769.1,1040.8 770.7,1037.3 772.2,1033.9M779.3,1020.5L781.2,1017.3 783.3,1014.0 785.4,1010.8 787.6,1007.7M797.6,996.5L800.4,994.2 803.4,992.2 806.5,990.5 809.7,989.1M823.6,986.3L827.2,986.3 830.8,986.6 834.4,987.2 838.0,988.0M852.1,993.2L855.5,994.9 858.9,996.6 862.2,998.4 865.5,1000.3M878.3,1008.3L881.4,1010.4 884.4,1012.5 887.5,1014.7 890.5,1016.9M902.4,1026.0L905.4,1028.3 908.3,1030.6 911.3,1032.9 914.2,1035.3M926.0,1044.6L928.9,1046.9 931.9,1049.2 934.8,1051.6 937.7,1053.9M949.4,1063.3L952.4,1065.6 955.3,1067.9 958.2,1070.3 961.1,1072.6M972.8,1082.0L975.7,1084.3 978.6,1086.7 981.5,1089.0 984.4,1091.3M996.0,1100.7L998.8,1103.0 1001.7,1105.3 1004.6,1107.6 1007.5,1110.0M1019.1,1119.3L1022.0,1121.6 1024.9,1123.9 1027.8,1126.3 1030.7,1128.6M1042.3,1137.9L1045.2,1140.3 1048.1,1142.6 1051.0,1145.0 1054.0,1147.3M1065.7,1156.7L1068.7,1159.0 1071.6,1161.4 1074.6,1163.7 1077.5,1166.1M1089.4,1175.4L1092.4,1177.8 1095.3,1180.1 1098.3,1182.4 1101.3,1184.7M1113.2,1193.9L1116.1,1196.2 1119.1,1198.5 1122.1,1200.7 1125.1,1203.0M1137.0,1211.9L1139.9,1214.2 1142.9,1216.4 1145.9,1218.6 1148.9,1220.8M1160.9,1229.6L1163.9,1231.8 1166.9,1234.0 1169.9,1236.1 1172.9,1238.3M1185.0,1247.0L1188.0,1249.2 1191.1,1251.3 1194.1,1253.5 1197.2,1255.6M1209.4,1264.2L1212.5,1266.3 1215.6,1268.5 1218.7,1270.6 1221.8,1272.6M1234.1,1280.7L1237.2,1282.7 1240.3,1284.7 1243.4,1286.6 1246.5,1288.5M1258.9,1296.0L1262.1,1297.9 1265.2,1299.8 1268.4,1301.7 1271.6,1303.7M1284.6,1311.7L1287.8,1313.7 1291.1,1315.8 1294.4,1317.8 1297.7,1319.8M1310.9,1327.8L1314.2,1329.8 1317.4,1331.7 1320.7,1333.6 1324.0,1335.4M1337.0,1342.7L1340.3,1344.5 1343.6,1346.3 1346.9,1348.0 1350.2,1349.8M1363.3,1356.7L1366.7,1358.4 1370.0,1360.1 1373.3,1361.8 1376.6,1363.4M1390.0,1370.0L1393.4,1371.6 1396.7,1373.2 1400.1,1374.8 1403.5,1376.4M1417.0,1382.6L1420.4,1384.1 1423.9,1385.6 1427.3,1387.1 1430.7,1388.6M1444.4,1394.3L1447.9,1395.7 1451.3,1397.0 1454.8,1398.4 1458.2,1399.7"/>
<path stroke="#5ab531" d="M647.9,1507.2L650.7,1504.8 653.2,1502.2 655.6,1499.4 657.8,1496.6M665.2,1484.1L666.9,1480.8 668.4,1477.4 669.8,1473.9 671.2,1470.4M676.0,1456.0L677.1,1452.4 678.1,1448.7 679.1,1445.0 680.1,1441.4M683.8,1426.7L684.7,1423.1 685.5,1419.4 686.3,1415.8 687.1,1412.1M690.2,1397.6L690.9,1393.9 691.6,1390.3 692.3,1386.6 693.0,1383.0M695.7,1368.4L696.3,1364.7 697.0,1361.1 697.6,1357.4 698.3,1353.8M700.8,1339.1L701.5,1335.5 702.1,1331.8 702.7,1328.1 703.3,1324.5M705.8,1309.8L706.4,1306.1 707.0,1302.4 707.7,1298.8 708.3,1295.1M710.7,1280.4L711.3,1276.7 711.9,1273.0 712.5,1269.3 713.1,1265.6M715.5,1250.9L716.1,1247.2 716.7,1243.5 717.3,1239.8 717.9,1236.1M720.3,1221.3L720.9,1217.6 721.5,1213.9 722.1,1210.2 722.7,1206.5M725.2,1191.7L725.8,1188.0 726.4,1184.3 727.0,1180.6 727.6,1176.9M730.1,1162.1L730.8,1158.4 731.4,1154.6 732.1,1150.9 732.7,1147.2M735.4,1132.4L736.1,1128.8 736.8,1125.1 737.6,1121.4 738.3,1117.7M741.3,1103.0L742.1,1099.4 742.9,1095.7 743.8,1092.1 744.6,1088.4M748.1,1073.9L749.1,1070.3 750.0,1066.7 751.0,1063.1 752.0,1059.6M756.2,1045.3L757.3,1041.8 758.4,1038.3 759.6,1034.8 760.7,1031.3M765.7,1017.4L767.0,1013.9 768.3,1010.5 769.7,1007.1 771.1,1003.7M777.6,990.2L779.5,986.8 781.5,983.5 783.7,980.2 786.0,977.0M796.9,965.9L800.0,963.8 803.2,962.1 806.6,960.9 810.1,960.1M824.7,960.1L828.4,960.7 832.1,961.5 835.7,962.4 839.3,963.4M853.1,968.6L856.4,970.1 859.8,971.7 863.0,973.4 866.3,975.2M878.9,982.9L882.0,985.0 885.1,987.1 888.2,989.3 891.2,991.5M903.3,1000.5L906.3,1002.8 909.3,1005.2 912.3,1007.5 915.2,1009.8M927.2,1019.0L930.1,1021.3 933.1,1023.7 936.1,1026.0 939.0,1028.3M950.9,1037.6L953.8,1039.9 956.8,1042.2 959.7,1044.5 962.7,1046.8M974.5,1056.1L977.4,1058.4 980.4,1060.7 983.3,1063.0 986.3,1065.4M998.0,1074.6L1001.0,1076.9 1003.9,1079.2 1006.9,1081.6 1009.8,1083.9M1021.6,1093.1L1024.5,1095.4 1027.4,1097.7 1030.4,1100.0 1033.3,1102.3M1045.1,1111.5L1048.0,1113.8 1050.9,1116.1 1053.9,1118.4 1056.8,1120.7M1068.6,1129.9L1071.6,1132.2 1074.5,1134.4 1077.5,1136.7 1080.4,1139.0M1092.2,1148.1L1095.2,1150.4 1098.1,1152.6 1101.1,1154.9 1104.1,1157.2M1115.9,1166.2L1118.9,1168.4 1121.9,1170.7 1124.8,1172.9 1127.8,1175.2M1139.8,1184.1L1142.8,1186.3 1145.7,1188.5 1148.7,1190.8 1151.7,1193.0M1163.8,1201.8L1166.8,1204.0 1169.8,1206.2 1172.8,1208.4 1175.8,1210.6M1188.0,1219.3L1191.0,1221.5 1194.1,1223.7 1197.1,1225.8 1200.2,1228.0M1212.4,1236.6L1215.5,1238.7 1218.5,1240.8 1221.6,1243.0 1224.7,1245.1M1237.1,1253.5L1240.2,1255.6 1243.3,1257.7 1246.4,1259.8 1249.5,1261.9M1262.0,1270.2L1265.1,1272.2 1268.3,1274.2 1271.4,1276.3 1274.6,1278.3M1287.2,1286.4L1290.4,1288.4 1293.6,1290.4 1296.7,1292.3 1299.9,1294.3M1312.7,1302.1L1315.9,1304.1 1319.1,1306.0 1322.3,1307.9 1325.5,1309.8M1338.4,1317.4L1341.7,1319.3 1344.9,1321.1 1348.2,1323.0 1351.4,1324.8M1364.5,1332.1L1367.8,1333.9 1371.0,1335.7 1374.3,1337.5 1377.6,1339.2M1390.8,1346.2L1394.1,1347.9 1397.5,1349.6 1400.8,1351.3 1404.1,1353.0M1417.5,1359.6L1420.8,1361.2 1424.2,1362.9 1427.6,1364.5 1430.9,1366.1M1444.5,1372.3L1447.9,1373.9 1451.3,1375.4 1454.7,1376.9 1458.1,1378.4"/>
<path stroke="#ed1c24" d="M647.9,1507.2L650.7,1504.8 653.2,1502.2 655.6,1499.4 657.8,1496.6M665.2,1484.1L666.8,1480.7 668.3,1477.3 669.7,1473.8 670.9,1470.3M675.5,1455.8L676.5,1452.1 677.4,1448.4 678.4,1444.8 679.3,1441.1M682.7,1426.4L683.5,1422.7 684.3,1419.1 685.1,1415.4 685.8,1411.7M688.6,1397.1L689.3,1393.4 690.0,1389.8 690.6,1386.1 691.3,1382.5M693.8,1367.8L694.4,1364.2 695.0,1360.5 695.6,1356.9 696.2,1353.2M698.5,1338.5L699.1,1334.9 699.7,1331.2 700.3,1327.5 700.8,1323.8M703.1,1309.1L703.7,1305.4 704.2,1301.8 704.8,1298.1 705.4,1294.4M707.6,1279.6L708.1,1275.9 708.7,1272.3 709.2,1268.6 709.8,1264.9M712.0,1250.1L712.6,1246.4 713.1,1242.7 713.7,1239.0 714.2,1235.3M716.5,1220.4L717.0,1216.7 717.6,1213.0 718.2,1209.3 718.7,1205.6M721.0,1190.7L721.6,1187.0 722.2,1183.3 722.8,1179.6 723.4,1175.9M725.7,1161.0L726.3,1157.3 727.0,1153.6 727.6,1149.9 728.2,1146.1M730.7,1131.3L731.3,1127.6 732.0,1123.9 732.6,1120.2 733.3,1116.6M736.0,1101.9L736.7,1098.2 737.3,1094.6 738.0,1091.0 738.8,1087.3M741.7,1072.9L742.4,1069.3 743.2,1065.7 744.0,1062.1 744.8,1058.5M748.2,1044.1L749.1,1040.5 750.0,1036.9 750.9,1033.3 751.8,1029.7M755.9,1015.2L756.9,1011.5 758.0,1007.9 759.2,1004.2 760.3,1000.6M765.4,986.1L766.9,982.6 768.4,979.1 770.0,975.6 771.7,972.2M779.4,959.4L781.6,956.4 784.0,953.5 786.5,950.7 789.1,948.0M800.9,939.4L804.2,937.9 807.5,936.7 811.0,935.8 814.5,935.2M829.1,936.0L832.8,936.9 836.5,938.0 840.1,939.3 843.7,940.8M857.4,948.2L860.8,950.2 864.0,952.3 867.2,954.4 870.4,956.4M882.7,964.8L885.7,966.9 888.7,969.0 891.7,971.1 894.7,973.2M906.8,981.8L909.8,983.9 912.8,986.1 915.8,988.3 918.8,990.5M930.9,999.3L933.9,1001.5 936.9,1003.7 939.9,1006.0 943.0,1008.2M955.0,1017.2L958.0,1019.5 961.1,1021.7 964.1,1024.0 967.1,1026.2M979.1,1035.3L982.1,1037.6 985.1,1039.9 988.2,1042.1 991.2,1044.4M1003.2,1053.5L1006.2,1055.8 1009.2,1058.1 1012.2,1060.3 1015.2,1062.6M1027.1,1071.6L1030.1,1073.9 1033.1,1076.2 1036.1,1078.4 1039.0,1080.6M1050.9,1089.6L1053.9,1091.8 1056.9,1094.1 1059.9,1096.3 1062.8,1098.5M1074.7,1107.4L1077.7,1109.6 1080.6,1111.8 1083.6,1114.0 1086.6,1116.3M1098.5,1125.1L1101.5,1127.4 1104.4,1129.6 1107.4,1131.8 1110.4,1134.0M1122.4,1143.0L1125.4,1145.2 1128.4,1147.4 1131.4,1149.7 1134.4,1151.9M1146.4,1160.8L1149.4,1163.0 1152.4,1165.3 1155.5,1167.5 1158.5,1169.7M1170.6,1178.6L1173.6,1180.8 1176.7,1183.0 1179.7,1185.2 1182.7,1187.4M1194.9,1196.1L1198.0,1198.3 1201.0,1200.5 1204.1,1202.7 1207.2,1204.8M1219.4,1213.5L1222.5,1215.6 1225.6,1217.7 1228.7,1219.9 1231.8,1222.0M1244.1,1230.5L1247.2,1232.6 1250.3,1234.7 1253.5,1236.8 1256.6,1238.9M1269.0,1247.2L1272.2,1249.3 1275.3,1251.3 1278.4,1253.4 1281.6,1255.4M1294.1,1263.6L1297.3,1265.6 1300.4,1267.6 1303.6,1269.6 1306.8,1271.6M1319.4,1279.5L1322.6,1281.5 1325.8,1283.5 1329.0,1285.4 1332.2,1287.4M1345.0,1295.1L1348.2,1297.0 1351.4,1298.9 1354.6,1300.8 1357.8,1302.6M1370.8,1310.1L1374.0,1312.0 1377.2,1313.8 1380.5,1315.6 1383.7,1317.5M1396.8,1324.7L1400.1,1326.4 1403.3,1328.2 1406.6,1330.0 1409.9,1331.7M1423.1,1338.7L1426.4,1340.4 1429.7,1342.1 1433.0,1343.8 1436.3,1345.4M1449.6,1352.1L1452.9,1353.7 1456.3,1355.3 1459.6,1356.9 1462.9,1358.5"/>
<path stroke="#1a1a1a" d="M647.9,1507.2L650.7,1504.8 653.2,1502.2 655.6,1499.4 657.8,1496.6M665.2,1484.0L666.7,1480.7 668.1,1477.3 669.4,1473.7 670.6,1470.2M674.7,1455.6L675.6,1451.9 676.5,1448.2 677.3,1444.5 678.1,1440.8M681.2,1426.0L681.9,1422.3 682.6,1418.6 683.3,1415.0 684.0,1411.3M686.5,1396.6L687.2,1393.0 687.8,1389.3 688.3,1385.6 688.9,1382.0M691.2,1367.3L691.7,1363.6 692.3,1360.0 692.8,1356.3 693.4,1352.6M695.5,1337.9L696.1,1334.2 696.6,1330.5 697.1,1326.8 697.6,1323.1M699.7,1308.3L700.3,1304.6 700.8,1300.9 701.3,1297.2 701.8,1293.5M703.9,1278.7L704.4,1275.0 704.9,1271.2 705.4,1267.5 705.9,1263.8M708.0,1249.0L708.5,1245.2 709.0,1241.5 709.5,1237.8 710.1,1234.1M712.1,1219.2L712.7,1215.5 713.2,1211.8 713.7,1208.1 714.2,1204.4M716.4,1189.6L716.9,1185.8 717.5,1182.1 718.0,1178.4 718.6,1174.7M720.8,1159.9L721.3,1156.3 721.9,1152.6 722.5,1148.9 723.1,1145.2M725.4,1130.4L726.0,1126.8 726.6,1123.1 727.2,1119.4 727.9,1115.7M730.4,1101.0L731.1,1097.4 731.8,1093.7 732.4,1090.0 733.1,1086.4M736.0,1071.7L736.7,1068.1 737.4,1064.4 738.2,1060.8 739.0,1057.1M742.1,1042.5L742.9,1038.9 743.8,1035.2 744.6,1031.6 745.5,1028.0M749.0,1013.4L750.0,1009.8 750.9,1006.2 751.9,1002.6 752.8,998.9M757.0,984.5L758.1,980.9 759.3,977.4 760.6,973.8 761.8,970.3M767.6,956.2L769.3,952.7 771.0,949.3 772.8,945.9 774.7,942.5M783.5,930.3L786.0,927.8 788.7,925.5 791.6,923.5 794.7,921.8M808.0,917.9L811.6,917.5 815.2,917.4 818.9,917.5 822.6,917.8M837.4,921.0L841.0,922.2 844.5,923.6 847.9,925.2 851.3,926.8M864.2,934.4L867.4,936.4 870.5,938.5 873.6,940.6 876.7,942.6M889.2,950.9L892.3,953.0 895.4,955.1 898.5,957.2 901.6,959.3M914.0,967.7L917.1,969.9 920.2,972.0 923.2,974.1 926.3,976.2M938.6,984.8L941.7,986.9 944.7,989.1 947.8,991.2 950.9,993.3M963.1,1002.0L966.2,1004.1 969.2,1006.3 972.3,1008.5 975.3,1010.6M987.5,1019.3L990.5,1021.5 993.6,1023.7 996.6,1025.9 999.6,1028.0M1011.8,1036.8L1014.8,1039.0 1017.8,1041.2 1020.9,1043.4 1023.9,1045.6M1036.0,1054.3L1039.0,1056.5 1042.0,1058.7 1045.1,1060.9 1048.1,1063.1M1060.2,1072.0L1063.2,1074.2 1066.2,1076.4 1069.2,1078.6 1072.3,1080.8M1084.3,1089.6L1087.4,1091.8 1090.4,1094.0 1093.4,1096.2 1096.4,1098.4M1108.5,1107.2L1111.5,1109.4 1114.6,1111.6 1117.6,1113.8 1120.6,1116.0M1132.7,1124.8L1135.7,1127.0 1138.8,1129.2 1141.8,1131.4 1144.8,1133.6M1157.0,1142.3L1160.0,1144.5 1163.0,1146.7 1166.1,1148.9 1169.1,1151.1M1181.3,1159.8L1184.3,1161.9 1187.4,1164.1 1190.4,1166.3 1193.5,1168.4M1205.7,1177.1L1208.8,1179.2 1211.8,1181.4 1214.9,1183.5 1218.0,1185.6M1230.3,1194.2L1233.3,1196.3 1236.4,1198.4 1239.5,1200.5 1242.6,1202.7M1254.9,1211.1L1258.0,1213.2 1261.1,1215.3 1264.2,1217.4 1267.3,1219.4M1279.8,1227.7L1282.9,1229.8 1286.0,1231.9 1289.1,1233.9 1292.2,1236.0M1304.8,1244.1L1307.9,1246.1 1311.1,1248.2 1314.2,1250.2 1317.3,1252.2M1330.0,1260.2L1333.1,1262.1 1336.3,1264.1 1339.5,1266.1 1342.7,1268.1M1355.4,1275.9L1358.6,1277.8 1361.8,1279.7 1365.0,1281.6 1368.2,1283.6M1381.0,1291.2L1384.3,1293.0 1387.5,1294.9 1390.7,1296.8 1394.0,1298.6M1407.0,1306.0L1410.2,1307.8 1413.5,1309.7 1416.7,1311.5 1420.0,1313.3M1433.1,1320.4L1436.4,1322.2 1439.7,1323.9 1443.0,1325.7 1446.3,1327.4M1459.6,1334.3L1460.4,1334.7 1461.3,1335.1 1462.1,1335.6 1462.9,1336.0"/>
</g>
<path class="axis" d="M729.4,1513.5v-9.4M729.4,875v9.4M810.9,1513.5v-9.4M810.9,875v9.4M892.4,1513.5v-9.4M892.4,875v9.4M973.9,1513.5v-9.4M973.9,875v9.4M1055.4,1513.5v-9.4M1055.4,875v9.4M1136.9,1513.5v-9.4M1136.9,875v9.4M1218.4,1513.5v-9.4M1218.4,875v9.4M1299.9,1513.5v-9.4M1299.9,875v9.4M1381.4,1513.5v-9.4M1381.4,875v9.4M647.9,1407.08h9.4M1462.9,1407.08h-9.4M647.9,1300.67h9.4M1462.9,1300.67h-9.4M647.9,1194.25h9.4M1462.9,1194.25h-9.4M647.9,1087.83h9.4M1462.9,1087.83h-9.4M647.9,981.42h9.4M1462.9,981.42h-9.4"/>
<rect class="axis" x="647.9" y="875" width="815" height="638.5"/>
<g class="tick" text-anchor="middle">
<text x="647.1" y="1550.35" textLength="13.5" lengthAdjust="spacingAndGlyphs">0</text>
<text x="729.2" y="1550.35" textLength="27.01" lengthAdjust="spacingAndGlyphs">10</text>
<text x="810.1" y="1550.35" textLength="27.01" lengthAdjust="spacingAndGlyphs">20</text>
<text x="891.6" y="1550.35" textLength="27.01" lengthAdjust="spacingAndGlyphs">30</text>
<text x="973.1" y="1550.35" textLength="27.01" lengthAdjust="spacingAndGlyphs">40</text>
<text x="1054.6" y="1550.35" textLength="27.01" lengthAdjust="spacingAndGlyphs">50</text>
<text x="1136.1" y="1550.35" textLength="27.01" lengthAdjust="spacingAndGlyphs">60</text>
<text x="1217.6" y="1550.35" textLength="27.01" lengthAdjust="spacingAndGlyphs">70</text>
<text x="1299.1" y="1550.35" textLength="27.01" lengthAdjust="spacingAndGlyphs">80</text>
<text x="1380.6" y="1550.35" textLength="27.01" lengthAdjust="spacingAndGlyphs">90</text>
<text x="1462.7" y="1550.35" textLength="40.51" lengthAdjust="spacingAndGlyphs">100</text>
</g>
<g class="tick" text-anchor="end">
<text x="637.4" y="1523.8" textLength="13.5" lengthAdjust="spacingAndGlyphs">0</text>
<text x="637.4" y="1417.38" textLength="54.02" lengthAdjust="spacingAndGlyphs">1000</text>
<text x="637.4" y="1310.97" textLength="54.02" lengthAdjust="spacingAndGlyphs">2000</text>
<text x="637.4" y="1204.55" textLength="54.02" lengthAdjust="spacingAndGlyphs">3000</text>
<text x="637.4" y="1098.13" textLength="54.02" lengthAdjust="spacingAndGlyphs">4000</text>
<text x="637.4" y="991.72" textLength="54.02" lengthAdjust="spacingAndGlyphs">5000</text>
<text x="637.4" y="885.3" textLength="54.02" lengthAdjust="spacingAndGlyphs">6000</text>
</g>
<text class="lab" text-anchor="middle" x="1054.4" y="1587.1" textLength="159.9">Time in days</text>
<text class="lab" text-anchor="middle" transform="translate(568.6,1194.25) rotate(-90)" xml:space="preserve">Infected vectors</text>
<g class="legend">
<rect class="legbox" x="1237.7" y="899.2" width="201.3" height="171.4"/>
<path stroke="#2f4faa" stroke-width="5" stroke-dasharray="15.1 14.9" d="M1252.9,923.8h75.4"/>
<text class="leg" x="1336" y="928.9" xml:space="preserve"><tspan class="beta">β</tspan><tspan class="sub" dx="1.5" dy="11">1</tspan><tspan dx="2.5" dy="-11">= 0.55</tspan></text>
<path stroke="#5ab531" stroke-width="5" stroke-dasharray="15.1 14.9" d="M1252.9,964.48h75.4"/>
<text class="leg" x="1336" y="969.58" xml:space="preserve"><tspan class="beta">β</tspan><tspan class="sub" dx="1.5" dy="11">1</tspan><tspan dx="2.5" dy="-11">=0.65</tspan></text>
<path stroke="#ed1c24" stroke-width="5" stroke-dasharray="15.1 14.9" d="M1252.9,1005.16h75.4"/>
<text class="leg" x="1336" y="1010.26" xml:space="preserve"><tspan class="beta">β</tspan><tspan class="sub" dx="1.5" dy="11">1</tspan><tspan dx="2.5" dy="-11">= 0.75</tspan></text>
<path stroke="#1a1a1a" stroke-width="5" stroke-dasharray="15.1 14.9" d="M1252.9,1045.84h75.4"/>
<text class="leg" x="1336" y="1050.94" xml:space="preserve"><tspan class="beta">β</tspan><tspan class="sub" dx="1.5" dy="11">1</tspan><tspan dx="2.5" dy="-11"> = 0.85</tspan></text>
</g>
</g>
<text class="cap" text-anchor="middle" x="484" y="798.1">(a)</text>
<text class="cap" text-anchor="middle" x="1545.1" y="798.1">(b)</text>
<text class="cap" text-anchor="middle" x="1027.9" y="1653">(c)</text>
</svg>
</body>
</html>
